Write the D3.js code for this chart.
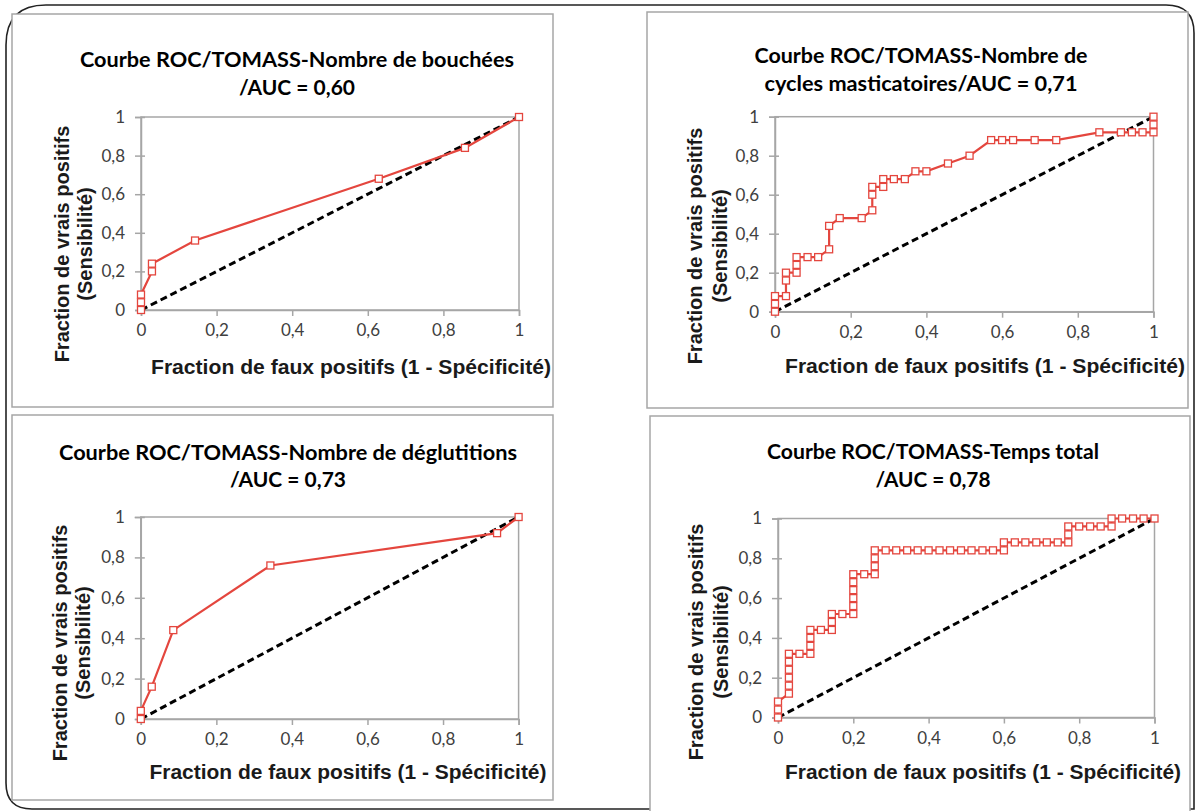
<!DOCTYPE html>
<html><head><meta charset="utf-8">
<script src="https://cdn.jsdelivr.net/npm/d3@7"></script>
<style>body{margin:0;background:#fff}svg{display:block}</style>
</head><body>
<svg id="c" width="1198" height="811"></svg>
<script>
// ---------- DATA ----------
const tickValues = [0, 0.2, 0.4, 0.6, 0.8, 1];
const tickLabels = ["0", "0,2", "0,4", "0,6", "0,8", "1"];
const diagonalX = [0, 1];
const diagonalY = [0, 1];

const titles1 = ["Courbe ROC/TOMASS-Nombre de bouchées", "/AUC = 0,60"];
const titles2 = ["Courbe ROC/TOMASS-Nombre de", "cycles masticatoires/AUC = 0,71"];
const titles3 = ["Courbe ROC/TOMASS-Nombre de déglutitions", "/AUC = 0,73"];
const titles4 = ["Courbe ROC/TOMASS-Temps total", "/AUC = 0,78"];
const xAxisTitle = "Fraction de faux positifs (1 - Spécificité)";
const yAxisTitle = ["Fraction de vrais positifs", "(Sensibilité)"];

// Panel 1 : Nombre de bouchées
const fpr1 = [0, 0, 0, 0.029, 0.029, 0.143, 0.629, 0.857, 1];
const tpr1 = [0, 0.04, 0.08, 0.2, 0.24, 0.36, 0.68, 0.84, 1];

// Panel 2 : Nombre de cycles masticatoires
const fpr2 = [0, 0, 0, 0.029, 0.029, 0.029, 0.057, 0.057, 0.057, 0.086, 0.114, 0.143, 0.143,
  0.171, 0.229, 0.257, 0.257, 0.257, 0.286, 0.286, 0.314, 0.343, 0.371, 0.4, 0.457, 0.514,
  0.571, 0.6, 0.629, 0.686, 0.743, 0.857, 0.914, 0.943, 0.971, 1, 1, 1];
const tpr2 = [0, 0.04, 0.08, 0.08, 0.16, 0.2, 0.2, 0.24, 0.28, 0.28, 0.28, 0.32, 0.44,
  0.48, 0.48, 0.52, 0.6, 0.64, 0.64, 0.68, 0.68, 0.68, 0.72, 0.72, 0.76, 0.8,
  0.88, 0.88, 0.88, 0.88, 0.88, 0.92, 0.92, 0.92, 0.92, 0.92, 0.96, 1];

// Panel 3 : Nombre de déglutitions
const fpr3 = [0, 0, 0.029, 0.086, 0.343, 0.943, 1];
const tpr3 = [0, 0.04, 0.16, 0.44, 0.76, 0.92, 1];

// Panel 4 : Temps total
const fpr4 = [0, 0, 0, 0.029, 0.029, 0.029, 0.029, 0.029, 0.029, 0.057, 0.086, 0.086, 0.086, 0.086,
  0.114, 0.143, 0.143, 0.143, 0.171, 0.2, 0.2, 0.2, 0.2, 0.2, 0.2, 0.229, 0.257, 0.257, 0.257, 0.257,
  0.286, 0.314, 0.343, 0.371, 0.4, 0.429, 0.457, 0.486, 0.514, 0.543, 0.571, 0.6,
  0.6, 0.629, 0.657, 0.686, 0.714, 0.743, 0.771, 0.771, 0.771,
  0.8, 0.829, 0.857, 0.886, 0.886, 0.914, 0.943, 0.971, 1];
const tpr4 = [0, 0.04, 0.08, 0.12, 0.16, 0.2, 0.24, 0.28, 0.32, 0.32, 0.32, 0.36, 0.4, 0.44,
  0.44, 0.44, 0.48, 0.52, 0.52, 0.52, 0.56, 0.6, 0.64, 0.68, 0.72, 0.72, 0.72, 0.76, 0.8, 0.84,
  0.84, 0.84, 0.84, 0.84, 0.84, 0.84, 0.84, 0.84, 0.84, 0.84, 0.84, 0.84,
  0.88, 0.88, 0.88, 0.88, 0.88, 0.88, 0.88, 0.92, 0.96,
  0.96, 0.96, 0.96, 0.96, 1, 1, 1, 1, 1];

// ---------- LAYOUT ----------
const panels = [
  { fpr: fpr1, tpr: tpr1, titles: titles1,
    frame: [12, 14, 553, 407], plot: { x0: 141, x1: 519, y0: 310, y1: 117 },
    t: [{ x: 297, y: 67, w: 434 }, { x: 297, y: 95, w: 116 }],
    xt: { x: 351, y: 374, w: 400 }, yt: { a: 62, b: 85, cy: 244 } },
  { fpr: fpr2, tpr: tpr2, titles: titles2,
    frame: [647, 12, 1188, 408], plot: { x0: 775, x1: 1153.5, y0: 311.7, y1: 116.7 },
    t: [{ x: 921, y: 63, w: 333 }, { x: 921, y: 91, w: 313 }],
    xt: { x: 985, y: 373, w: 400 }, yt: { a: 695, b: 720, cy: 246 } },
  { fpr: fpr3, tpr: tpr3, titles: titles3,
    frame: [12, 415, 553, 800], plot: { x0: 140.8, x1: 518.6, y0: 719, y1: 517 },
    t: [{ x: 288, y: 460, w: 458 }, { x: 288, y: 487, w: 116 }],
    xt: { x: 348, y: 779, w: 397 }, yt: { a: 60, b: 83, cy: 643 } },
  { fpr: fpr4, tpr: tpr4, titles: titles4,
    frame: [650, 416, 1190, 830], plot: { x0: 778, x1: 1154.5, y0: 717.5, y1: 518.5 },
    t: [{ x: 933, y: 459, w: 332 }, { x: 933, y: 487, w: 115 }],
    xt: { x: 983, y: 779, w: 396 }, yt: { a: 696, b: 721, cy: 642 } }
];

const red = "#e4463e";
const svg = d3.select("#c");

// outer rounded border
const L = 6, T = 5, R = 1194, B = 809, rTL = 40, rTR = 28, rBL = 26;
svg.append("path")
  .attr("d", `M${L + rTL},${T} L${R - rTR},${T} Q${R},${T} ${R},${T + rTR} L${R},${B} L${L + rBL},${B} Q${L},${B} ${L},${B - rBL} L${L},${T + rTL} Q${L},${T} ${L + rTL},${T} Z`)
  .attr("fill", "none").attr("stroke", "#222").attr("stroke-width", 1.6);

const tickFont = "Lato, 'Open Sans', sans-serif";
const axisFont = "'Liberation Sans', Arial, sans-serif";

panels.forEach(p => {
  const g = svg.append("g");
  const [fx0, fy0, fx1, fy1] = p.frame;
  g.append("rect").attr("x", fx0).attr("y", fy0).attr("width", fx1 - fx0).attr("height", fy1 - fy0)
    .attr("fill", "#fff").attr("stroke", "#a6a6a6").attr("stroke-width", 1.5);

  const x = d3.scaleLinear().domain([0, 1]).range([p.plot.x0, p.plot.x1]);
  const y = d3.scaleLinear().domain([0, 1]).range([p.plot.y0, p.plot.y1]);

  g.append("rect").attr("x", x(0)).attr("y", y(1)).attr("width", x(1) - x(0)).attr("height", y(0) - y(1))
    .attr("fill", "none").attr("stroke", "#a6a6a6").attr("stroke-width", 1.5);

  const fmt = d => tickLabels[tickValues.indexOf(d)];
  const xa = g.append("g").attr("transform", `translate(0,${y(0)})`)
    .call(d3.axisBottom(x).tickValues(tickValues).tickFormat(fmt).tickSize(6).tickPadding(8));
  const ya = g.append("g").attr("transform", `translate(${x(0)},0)`)
    .call(d3.axisLeft(y).tickValues(tickValues).tickFormat(fmt).tickSize(6).tickPadding(10));
  [xa, ya].forEach(a => {
    a.attr("font-size", null).attr("font-family", null);
    a.select(".domain").attr("stroke", "#a6a6a6").attr("stroke-width", 1.5);
    a.selectAll(".tick line").attr("stroke", "#a6a6a6").attr("stroke-width", 1.5);
    a.selectAll(".tick text").attr("fill", "#404040")
      .style("font-family", tickFont).style("font-size", "17px");
  });
  ya.selectAll(".tick line").attr("x2", 4).attr("x1", -6);

  g.append("path")
    .attr("d", d3.line().x(d => x(d[0])).y(d => y(d[1]))(d3.zip(diagonalX, diagonalY)))
    .attr("stroke", "#000").attr("stroke-width", 3).attr("stroke-dasharray", "7,4").attr("fill", "none");

  const pts = d3.zip(p.fpr, p.tpr);
  g.append("path")
    .attr("d", d3.line().x(d => x(d[0])).y(d => y(d[1]))(pts))
    .attr("stroke", red).attr("stroke-width", 2.2).attr("fill", "none");
  g.selectAll("rect.m").data(pts).join("rect").attr("class", "m")
    .attr("x", d => x(d[0]) - 3.5).attr("y", d => y(d[1]) - 3.5).attr("width", 7).attr("height", 7)
    .attr("fill", "#fff").attr("stroke", red).attr("stroke-width", 1.3);

  p.titles.forEach((t, i) => {
    g.append("text").attr("x", p.t[i].x).attr("y", p.t[i].y).attr("text-anchor", "middle")
      .attr("textLength", p.t[i].w).attr("lengthAdjust", "spacingAndGlyphs")
      .style("font-family", tickFont).style("font-weight", "bold").style("font-size", "21px")
      .attr("fill", "#000").text(t);
  });
  g.append("text").attr("x", p.xt.x).attr("y", p.xt.y).attr("text-anchor", "middle")
    .attr("textLength", p.xt.w).attr("lengthAdjust", "spacingAndGlyphs")
    .style("font-family", axisFont).style("font-weight", "bold").style("font-size", "20px")
    .attr("fill", "#1a1a1a").text(xAxisTitle);
  [p.yt.a, p.yt.b].forEach((cx, i) => {
    g.append("text").attr("transform", `translate(${cx},${p.yt.cy}) rotate(-90)`)
      .attr("text-anchor", "middle").attr("dominant-baseline", "central")
      .style("font-family", axisFont).style("font-weight", "bold").style("font-size", "20px")
      .attr("fill", "#1a1a1a").text(yAxisTitle[i]);
  });
});
</script>
</body></html>
